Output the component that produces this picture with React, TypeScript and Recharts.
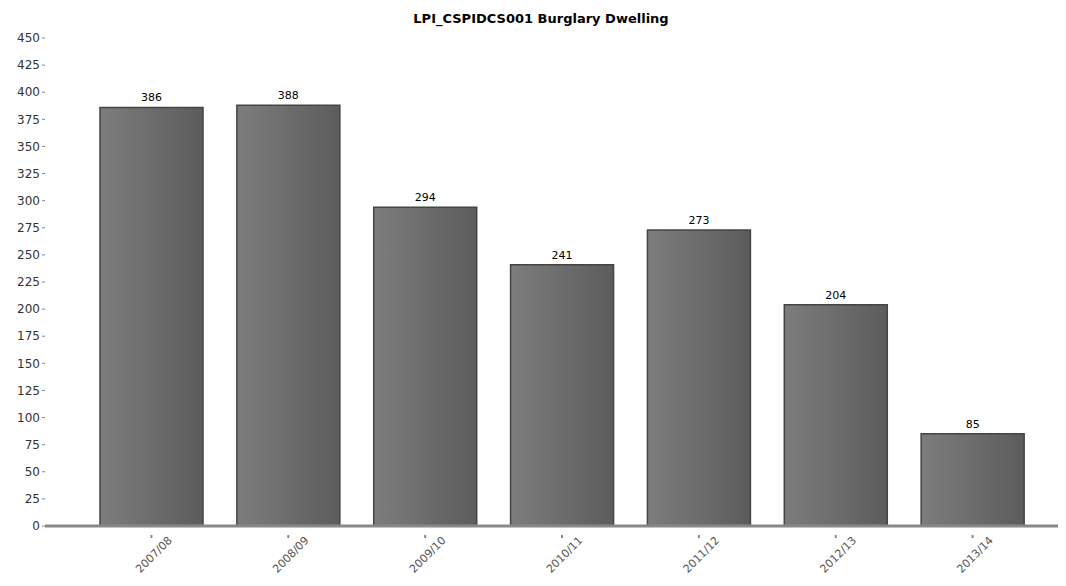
import React from "react";
import { BarChart, Bar, XAxis, YAxis, LabelList } from "recharts";

const years = ["2007/08", "2008/09", "2009/10", "2010/11", "2011/12", "2012/13", "2013/14"];
const counts = [386, 388, 294, 241, 273, 204, 85];
const yTicks = [0, 25, 50, 75, 100, 125, 150, 175, 200, 225, 250, 275, 300, 325, 350, 375, 400, 425, 450];

const data = years.map((year, i) => ({ year, count: counts[i] }));

const XTick = (props: any) => {
  const { x, y, payload } = props;
  return (
    <g transform={`translate(${x},${y})`}>
      <line x1={0} y1={1} x2={0} y2={4} stroke="#888" strokeWidth={2} />
      <text
        x={10}
        y={20}
        textAnchor="end"
        fill="#555"
        fontSize={11}
        fontFamily="DejaVu Sans, sans-serif"
        transform="rotate(-45)"
      >
        {payload.value}
      </text>
    </g>
  );
};

export default function App() {
  return (
    <div style={{ width: 1058, height: 578, position: "relative", fontFamily: "DejaVu Sans, sans-serif" }}>
      <div
        style={{
          position: "absolute",
          top: 3,
          left: 0,
          width: 1066,
          textAlign: "center",
          fontWeight: "bold",
          fontSize: 13,
          color: "#000",
        }}
      >
        LPI_CSPIDCS001 Burglary Dwelling
      </div>
      <BarChart
        width={1058}
        height={578}
        data={data}
        margin={{ top: 30, right: 0, bottom: 0, left: 0 }}
      >
        <defs>
          <linearGradient id="barGrad" x1="0" y1="0" x2="1" y2="0">
            <stop offset="0%" stopColor="#7d7d7d" />
            <stop offset="100%" stopColor="#5c5c5c" />
          </linearGradient>
        </defs>
        <XAxis
          dataKey="year"
          height={60}
          padding={{ left: 38, right: 25 }}
          axisLine={{ stroke: "#888", strokeWidth: 3 }}
          tickLine={false}
          tick={<XTick />}
          interval={0}
        />
        <YAxis
          width={37}
          domain={[0, 450]}
          ticks={yTicks}
          interval={0}
          axisLine={false}
          tickLine={{ stroke: "#888" }}
          tickSize={3}
          tick={{ fill: "#333", fontSize: 12, fontFamily: "DejaVu Sans, sans-serif" }}
        />
        <Bar
          dataKey="count"
          fill="url(#barGrad)"
          stroke="#444"
          strokeWidth={1.5}
          barSize={103}
          isAnimationActive={false}
        >
          <LabelList
            dataKey="count"
            position="top"
            offset={6}
            fill="#000"
            fontSize={11}
            fontFamily="DejaVu Sans, sans-serif"
          />
        </Bar>
      </BarChart>
    </div>
  );
}
